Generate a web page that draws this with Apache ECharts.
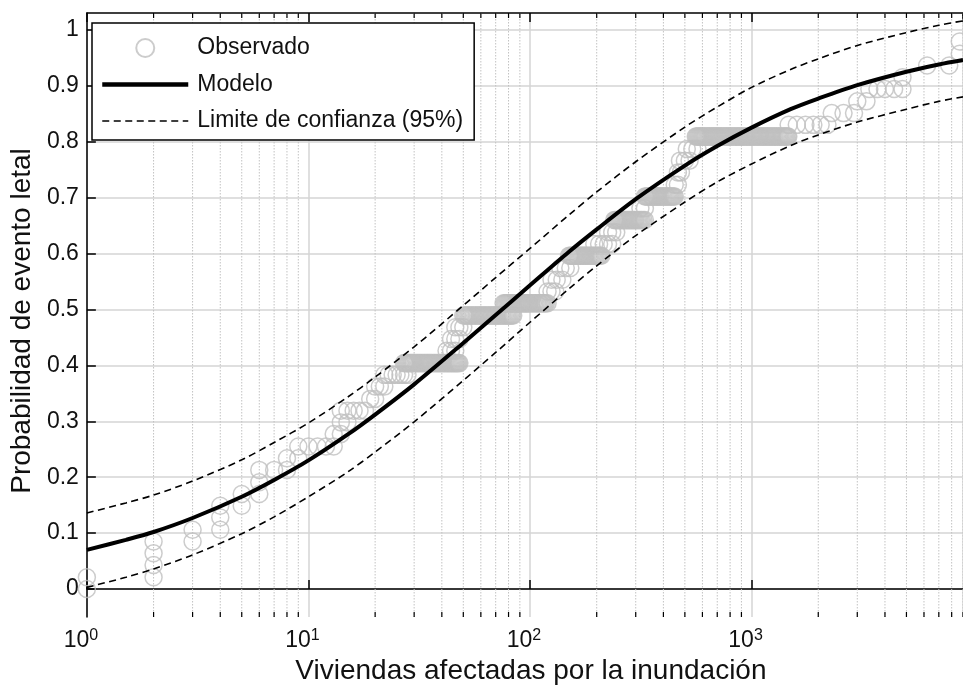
<!DOCTYPE html>
<html><head><meta charset="utf-8">
<script src="https://cdn.jsdelivr.net/npm/echarts@6/dist/echarts.min.js"></script>
<style>html,body{margin:0;padding:0;background:#fff}#c{width:963px;height:693px}</style>
</head><body><div id="c"></div>
<script>
// ---- Data ----
const modelX = [1,1.5,2,3,5,7,10,15,20,30,50,70,100,150,200,300,500,700,1000,1500,2000,3000,5000,7000,9000];
const modelY = [0.070,0.088,0.102,0.127,0.165,0.195,0.230,0.276,0.312,0.366,0.440,0.490,0.543,0.603,0.643,0.697,0.757,0.792,0.825,0.858,0.877,0.901,0.925,0.938,0.946];
const upperY = [0.136,0.154,0.168,0.193,0.231,0.262,0.297,0.343,0.379,0.433,0.507,0.557,0.609,0.669,0.710,0.764,0.826,0.862,0.897,0.929,0.948,0.972,0.995,1.008,1.016];
const lowerY = [0.003,0.021,0.036,0.061,0.099,0.129,0.165,0.209,0.245,0.299,0.373,0.423,0.477,0.537,0.578,0.632,0.692,0.728,0.760,0.793,0.812,0.835,0.858,0.872,0.880];

// observed points grouped by probability level
const obsLevels = [0,0.021,0.043,0.064,0.085,0.106,0.128,0.149,0.170,0.191,0.213,0.234,0.255,0.277,0.298,0.319,0.340,0.362,0.383,0.404,0.426,0.447,0.468,0.489,0.511,0.532,0.553,0.574,0.596,0.617,0.638,0.660,0.681,0.702,0.723,0.745,0.766,0.787,0.809,0.830,0.851,0.872,0.894,0.915,0.936,0.957,0.979];
const obsXByLevel = [
  [1],[1,2],[2],[2],[2,3],[3,4],[4],[4,5],[5,6],[6],[6,7,8],[8,9],
  [9,10,11,12,13],[13,14],[14,15],[14,15,16,17,18],[19,20],[20,21,22],
  [22,23,24,25,26,27,28],
  [27,27.3,27.6,27.9,28.2,28.5,28.8,29.1,29.4,29.7,30,30.4,30.8,31.2,31.6,32,32.4,32.8,33.2,33.6,34,34.4,34.8,35.2,35.6,36,36.5,37,37.5,38,38.5,39,39.5,40,40.5,41,41.5,42,42.5,43,43.5,44,44.5,45,45.5,46,46.5,47,47.5,48],
  [42,44,46],[44,46,48],[46,48,50],
  [50,50.7,51.4,52.1,52.8,53.5,54.2,55,55.8,56.6,57.4,58.2,59,59.8,60.6,61.4,62.2,63,63.9,64.8,65.7,66.6,67.5,68.4,69.3,70.2,71.1,72,73,74,75,76,77,78,79,80,81,82,83,84],
  [76,77,78,79,80,81,82,83,84,85,86,87,88,89,90,91,92,93,94,95,96,97,98,99,100,101.5,103,104.5,106,107.5,109,110.5,112,113.5,115,116.5,118,120],
  [120,125,130],[125,132,140],[137,145,152],
  [150,152,154,156,158,160,162,164,166,168,170,172,174,176,178,180,182.5,185,187.5,190,192.5,195,197.5,200,202.5,205,207.5,210],
  [195,205,215,225,235],[225,235,245],
  [240,243,246,249,252,255,258,261,264,267,270,273,276,279,282,285,288,291,294,297,300,304,308,312,316,320,325,330],[315,330],
  [330,334,338,342,346,350,354,358,362,366,370,374,378,382,386,390,395,400,405,410,415,420,425,430,435,440,445,450],
  [450,465],[465,480],[475,500,525],[510,540,570],
  [560,566,572,578,584,590,596,602,608,614,620,626,633,640,647,654,661,668,675,682,690,698,706,714,722,730,738,746,755,764,773,782,791,800,810,820,830,840,850,860,870,880,891,902,913,924,935,946,958,970,982,994,1006,1018,1031,1044,1057,1070,1083,1096,1110,1124,1138,1152,1166,1180,1195,1210,1225,1240,1255,1270,1286,1302,1318,1334,1350,1367,1384,1401,1418,1435,1452,1465],
  [1470,1600,1750,1900,2050,2200],
  [2300,2600,2900],[3000,3300],[3400,3700,4000,4400,4800],[4800],[6200,7800],[8700],[8700]
];
const minorTicks = [2,3,4,5,6,7,8,9,20,30,40,50,60,70,80,90,200,300,400,500,600,700,800,900,2000,3000,4000,5000,6000,7000,8000,9000];
const yTicks = [0,0.1,0.2,0.3,0.4,0.5,0.6,0.7,0.8,0.9,1];
const legendNames = ['Observado','Modelo','Limite de confianza (95%)'];

// ---- build ----
const FONT = '"Liberation Sans", Arial, Helvetica, sans-serif';
const obsData = [];
obsXByLevel.forEach((xs, i) => xs.forEach(x => obsData.push([x, obsLevels[i]])));
const pair = (ys) => modelX.map((x, i) => [x, ys[i]]);
const DASH = [7, 4.5];
const NOFILL = {color: 'rgba(0,0,0,0)', borderWidth: 0, opacity: 0};

const chart = echarts.init(document.getElementById('c'), null, {renderer: 'canvas'});
const xLabelFmt = v => {
  const e = Math.log10(v); const r = Math.round(e);
  if (Math.abs(e - r) > 1e-6) return '';
  return '{b|10}{s|' + r + '}';
};
chart.setOption({
  animation: false,
  backgroundColor: '#fff',
  grid: {left: 80, right: 0, top: 13, bottom: 76, show: false},
  legend: {
    orient: 'vertical', left: 92, top: 23, z: 20,
    backgroundColor: '#fff', borderColor: '#000', borderWidth: 1.5, borderRadius: 0,
    padding: [12, 11, 6, 8],
    itemWidth: 86, itemHeight: 18, itemGap: 10.5,
    textStyle: {fontFamily: FONT, fontSize: 23, color: '#111', lineHeight: 26, padding: [0, 0, 0, 4]},
    data: [
      {name: legendNames[0]},
      {name: legendNames[1], itemStyle: NOFILL, lineStyle: {color: '#000', width: 4.5}},
      {name: legendNames[2], itemStyle: NOFILL, lineStyle: {color: '#000', width: 1.6, type: DASH}}
    ]
  },
  xAxis: [{
    type: 'log', logBase: 10, min: 1, max: 9000, position: 'bottom',
    axisLine: {show: true, lineStyle: {color: '#000', width: 1.5}},
    axisTick: {show: true, inside: true, length: 9, lineStyle: {color: '#000', width: 1.5}},
    axisLabel: {
      show: true, margin: 11, formatter: xLabelFmt, showMaxLabel: false,
      rich: {
        b: {fontFamily: FONT, fontSize: 23, color: '#111', lineHeight: 24, padding: [4, 0, 0, 0], verticalAlign: 'bottom'},
        s: {fontFamily: FONT, fontSize: 16, color: '#111', lineHeight: 16, verticalAlign: 'top', padding: [0, 12, 0, 0]}
      }
    },
    splitLine: {show: true, lineStyle: {color: '#d4d4d4', width: 1.5}},
    minorTick: {show: false}, minorSplitLine: {show: false},
    name: 'Viviendas afectadas por la inundación', nameLocation: 'middle', nameGap: 34,
    nameTextStyle: {fontFamily: FONT, fontSize: 28, color: '#111', padding: [0, 0, 0, 12]}
  }, {
    type: 'log', logBase: 10, min: 1, max: 9000, position: 'top',
    axisLine: {show: true, lineStyle: {color: '#000', width: 1.5}},
    axisTick: {show: true, inside: true, length: 9, lineStyle: {color: '#000', width: 1.5}},
    axisLabel: {show: false}, splitLine: {show: false}
  }],
  yAxis: {
    type: 'value', min: -0.05, max: 1.03,
    axisLine: {show: true, lineStyle: {color: '#000', width: 1.5}},
    axisTick: {show: true, inside: true, length: 9, lineStyle: {color: '#000', width: 1.5}, customValues: yTicks},
    axisLabel: {customValues: yTicks, margin: 8, fontFamily: FONT, fontSize: 23, color: '#111',
      formatter: v => String(Number(v.toFixed(1)))},
    splitLine: {show: true, lineStyle: {color: '#d4d4d4', width: 1.5}},
    name: 'Probabilidad de evento letal', nameLocation: 'middle', nameGap: 36,
    nameTextStyle: {fontFamily: FONT, fontSize: 28, color: '#111', padding: [0, 12, 0, 0]}
  },
  series: [
    {
      type: 'custom', coordinateSystem: 'cartesian2d', xAxisIndex: 0, silent: true, z: 1, clip: false,
      data: minorTicks.map(v => [v, 0]),
      renderItem: (params, api) => {
        const p = api.coord([api.value(0), 0]);
        const cs = params.coordSys;
        const top = cs.y, bottom = cs.y + cs.height;
        return {type: 'group', children: [
          {type: 'line', shape: {x1: p[0], y1: top, x2: p[0], y2: bottom}, style: {stroke: '#c2c2c2', lineWidth: 1, lineDash: [1.5, 1.5]}},
          {type: 'line', shape: {x1: p[0], y1: bottom, x2: p[0], y2: bottom - 5}, style: {stroke: '#000', lineWidth: 1.2}},
          {type: 'line', shape: {x1: p[0], y1: top, x2: p[0], y2: top + 5}, style: {stroke: '#000', lineWidth: 1.2}}
        ]};
      }
    },
    {
      name: 'Observado', type: 'scatter', z: 3, symbol: 'circle', symbolSize: 17, large: false,
      itemStyle: {color: 'rgba(255,255,255,0)', borderColor: '#bfbfbf', borderWidth: 1.5},
      data: obsData
    },
    {
      name: 'Modelo', type: 'line', z: 4, showSymbol: false, symbol: 'none', smooth: 0.3,
      lineStyle: {color: '#000', width: 4}, itemStyle: NOFILL,
      data: pair(modelY)
    },
    {
      name: 'Limite de confianza (95%)', type: 'line', z: 4, showSymbol: false, symbol: 'none', smooth: 0.3,
      lineStyle: {color: '#000', width: 1.6, type: DASH}, itemStyle: NOFILL,
      data: pair(upperY)
    },
    {
      name: 'Limite de confianza (95%)', type: 'line', z: 4, showSymbol: false, symbol: 'none', smooth: 0.3,
      lineStyle: {color: '#000', width: 1.6, type: DASH}, itemStyle: NOFILL,
      data: pair(lowerY)
    }
  ]
});
</script></body></html>
